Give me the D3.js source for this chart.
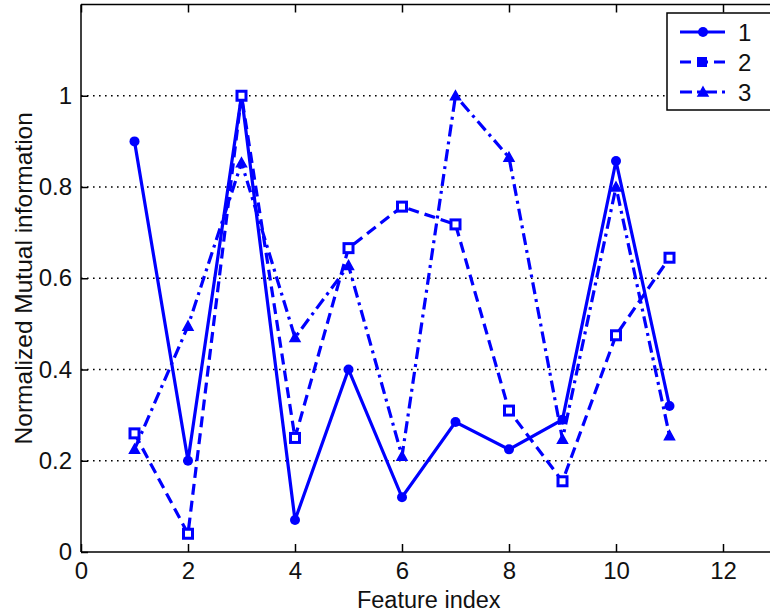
<!DOCTYPE html>
<html>
<head>
<meta charset="utf-8">
<script src="https://cdn.jsdelivr.net/npm/d3@7"></script>
<style>
  html, body { margin: 0; padding: 0; background: #fff; }
  svg { display: block; }
  text { font-family: "Liberation Sans", Arial, sans-serif; }
</style>
</head>
<body>
<svg id="chart" width="770" height="614"></svg>
<script>
// ---- data ----
const featureIndex = [1, 2, 3, 4, 5, 6, 7, 8, 9, 10, 11];
const series1 = [0.90, 0.20, 1.00, 0.07, 0.40, 0.12, 0.285, 0.225, 0.29, 0.857, 0.32];
const series2 = [0.26, 0.04, 1.00, 0.25, 0.666, 0.757, 0.718, 0.31, 0.155, 0.475, 0.645];
const series3 = [0.225, 0.495, 0.853, 0.47, 0.628, 0.21, 1.00, 0.865, 0.247, 0.80, 0.255];
const seriesNames = ["1", "2", "3"];
const xTicks = [0, 2, 4, 6, 8, 10, 12];
const yTicks = [0, 0.2, 0.4, 0.6, 0.8, 1];
const xLabel = "Feature index";
const yLabel = "Normalized Mutual information";

(function () {
const svg = d3.select("#chart");
const pL = 81, pR = 776.5, pT = 4.5, pB = 552;
const x = d3.scaleLinear().domain([0, 13]).range([pL, pR]);
const y = d3.scaleLinear().domain([0, 1.2]).range([pB, pT]);
const blue = "#0000ff";

svg.append("rect").attr("width", 770).attr("height", 614).attr("fill", "#fff");

// grid (y only, dotted)
svg.append("g").selectAll("line").data(yTicks.filter(d => d > 0)).join("line")
  .attr("x1", pL).attr("x2", pR)
  .attr("y1", d => y(d)).attr("y2", d => y(d))
  .attr("stroke", "#000").attr("stroke-width", 1.6)
  .attr("stroke-dasharray", "1.6,4.4");

// series
const seriesData = [series1, series2, series3].map((vals, i) => ({
  name: seriesNames[i],
  points: featureIndex.map((f, j) => ({x: f, y: vals[j]}))
}));
const dashes = [null, "11,6", "12,5,3,5"];
const line = d3.line().x(d => x(d.x)).y(d => y(d.y));

function drawMarker(g, type, cx, cy) {
  if (type === 0) {
    g.append("circle").attr("cx", cx).attr("cy", cy).attr("r", 5).attr("fill", blue);
  } else if (type === 1) {
    g.append("rect").attr("x", cx - 4.5).attr("y", cy - 4.5).attr("width", 9).attr("height", 9)
      .attr("fill", "#fff").attr("stroke", blue).attr("stroke-width", 3);
  } else {
    g.append("path").attr("d", `M${cx},${cy - 5}L${cx + 5},${cy + 4}L${cx - 5},${cy + 4}Z`)
      .attr("fill", blue).attr("stroke", blue).attr("stroke-width", 1.5);
  }
}

seriesData.forEach((s, i) => {
  const g = svg.append("g");
  g.append("path").datum(s.points).attr("d", line)
    .attr("fill", "none").attr("stroke", blue).attr("stroke-width", 3.2)
    .attr("stroke-dasharray", dashes[i]).attr("stroke-linejoin", "miter");
  s.points.forEach(p => drawMarker(g, i, x(p.x), y(p.y)));
});

// axes frame
svg.append("line").attr("x1", pL).attr("x2", pR).attr("y1", pB).attr("y2", pB)
  .attr("stroke", "#000").attr("stroke-width", 1.5);
svg.append("line").attr("x1", pL).attr("x2", pR).attr("y1", pT).attr("y2", pT)
  .attr("stroke", "#000").attr("stroke-width", 1.5);
svg.append("line").attr("x1", pL).attr("x2", pL).attr("y1", pT).attr("y2", pB)
  .attr("stroke", "#000").attr("stroke-width", 1.5);

const xAxis = svg.append("g").attr("transform", `translate(0,${pB})`)
  .call(d3.axisBottom(x).tickValues(xTicks).tickSize(-8).tickPadding(14).tickFormat(d3.format("d")));
xAxis.select(".domain").remove();
xAxis.selectAll(".tick line").attr("stroke", "#000").attr("stroke-width", 1.5);
xAxis.selectAll(".tick text").attr("font-size", 24).attr("fill", "#111")
  .attr("font-family", "Liberation Sans, Arial, sans-serif").attr("dy", "0.71em").attr("y", 10);

const xAxisTop = svg.append("g").attr("transform", `translate(0,${pT})`)
  .call(d3.axisTop(x).tickValues(xTicks).tickSize(-8).tickFormat(""));
xAxisTop.select(".domain").remove();
xAxisTop.selectAll(".tick line").attr("stroke", "#000").attr("stroke-width", 1.5);

const yAxis = svg.append("g").attr("transform", `translate(${pL},0)`)
  .call(d3.axisLeft(y).tickValues(yTicks).tickSize(-7).tickPadding(9).tickFormat(d3.format("~g")));
yAxis.select(".domain").remove();
yAxis.selectAll(".tick line").attr("stroke", "#000").attr("stroke-width", 1.5);
yAxis.selectAll(".tick text").attr("font-size", 24).attr("fill", "#111")
  .attr("font-family", "Liberation Sans, Arial, sans-serif").attr("x", -9);

// axis labels
svg.append("text").attr("x", (pL + pR) / 2).attr("y", 608)
  .attr("text-anchor", "middle").attr("font-size", 23.5).attr("fill", "#111").text(xLabel);
svg.append("text").attr("transform", `translate(32,${(pT + pB) / 2}) rotate(-90)`)
  .attr("text-anchor", "middle").attr("font-size", 24.5).attr("fill", "#111").text(yLabel);

// legend
const lg = svg.append("g");
lg.append("rect").attr("x", 667).attr("y", 13).attr("width", 110).attr("height", 97)
  .attr("fill", "#fff").attr("stroke", "#000").attr("stroke-width", 1.5);
seriesData.forEach((s, i) => {
  const ly = 32 + i * 30;
  lg.append("line").attr("x1", 680).attr("x2", 725).attr("y1", ly).attr("y2", ly)
    .attr("stroke", blue).attr("stroke-width", 3.2).attr("stroke-dasharray", dashes[i]);
  if (i === 1) {
    lg.append("rect").attr("x", 697).attr("y", ly - 5).attr("width", 10).attr("height", 10).attr("fill", blue);
  } else {
    drawMarker(lg, i, 703, ly);
  }
  lg.append("text").attr("x", 738).attr("y", ly + 9).attr("font-size", 24).attr("fill", "#111").text(s.name);
});
})();
</script>
</body>
</html>
